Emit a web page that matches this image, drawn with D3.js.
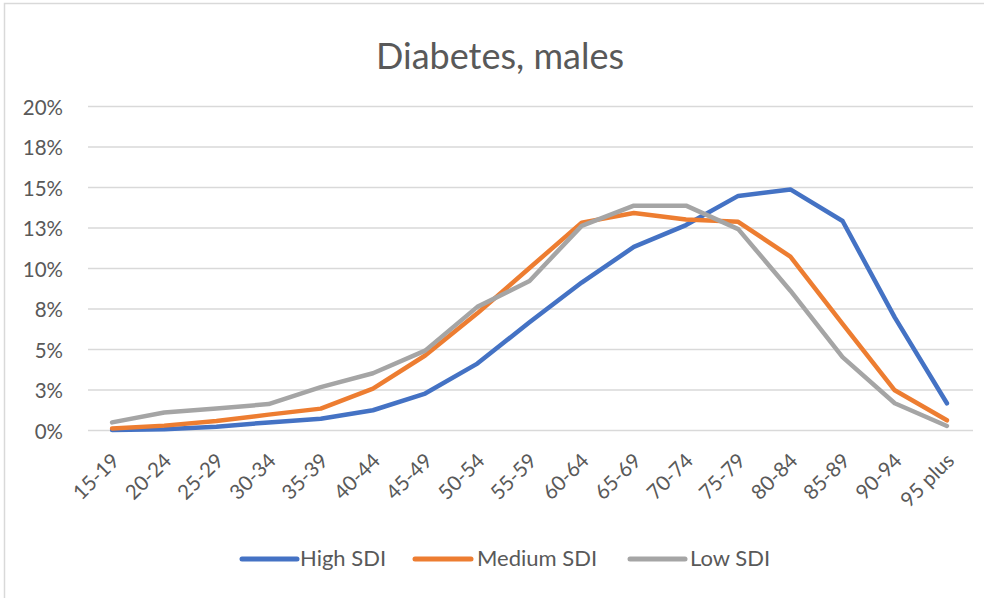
<!DOCTYPE html>
<html>
<head>
<meta charset="utf-8">
<script src="https://cdn.jsdelivr.net/npm/d3@7/dist/d3.min.js"></script>
<style>
  html, body { margin: 0; padding: 0; background: #fff; }
  svg { display: block; }
  svg text { font-family: Lato, "Open Sans", "Liberation Sans", sans-serif; }
</style>
</head>
<body>
<svg id="chart" width="984" height="598"></svg>
<script>
// Age groups on the x axis
const ageGroups = ["15-19","20-24","25-29","30-34","35-39","40-44","45-49","50-54","55-59",
  "60-64","65-69","70-74","75-79","80-84","85-89","90-94","95 plus"];

// Share of deaths (%) by SDI group
const highSDI   = [0.0, 0.05, 0.2, 0.47, 0.7, 1.22, 2.25, 4.1, 6.65, 9.1, 11.3, 12.65, 14.45, 14.85, 12.9, 6.95, 1.65];
const mediumSDI = [0.1, 0.27, 0.55, 0.95, 1.32, 2.55, 4.6, 7.2, 10.0, 12.8, 13.4, 13.0, 12.85, 10.7, 6.55, 2.45, 0.6];
const lowSDI    = [0.47, 1.08, 1.32, 1.6, 2.65, 3.5, 4.9, 7.6, 9.2, 12.6, 13.85, 13.85, 12.4, 8.6, 4.5, 1.65, 0.25];

// Y tick values and their (rounded) labels
const yTicks = [0, 2.5, 5, 7.5, 10, 12.5, 15, 17.5, 20];
const yTickLabels = ["0%","3%","5%","8%","10%","13%","15%","18%","20%"];

const seriesNames = ["High SDI", "Medium SDI", "Low SDI"];
const seriesColors = ["#4472c4", "#ed7d31", "#a5a5a5"];
const seriesValues = [highSDI, mediumSDI, lowSDI];

const svg = d3.select("#chart");
const textColor = "#595959";

// outer chart frame
svg.append("rect")
  .attr("x", 4.5).attr("y", 3.5)
  .attr("width", 990).attr("height", 610)
  .attr("fill", "#fff").attr("stroke", "#d9d9d9").attr("stroke-width", 1.5);

const plot = { left: 86, right: 973, top: 106, bottom: 430 };

const x = d3.scalePoint().domain(ageGroups)
  .range([plot.left, plot.right]).padding(0.5);
const y = d3.scaleLinear().domain([0, 20]).range([plot.bottom, plot.top]);

// title
svg.append("text")
  .attr("x", 500).attr("y", 69)
  .attr("text-anchor", "middle")
  .attr("fill", textColor)
  .style("font-size", "36px")
  .text("Diabetes, males");

// horizontal gridlines + y labels
const yAxis = d3.axisLeft(y).tickValues(yTicks)
  .tickSize(-(plot.right - plot.left - 2))
  .tickFormat((d, i) => yTickLabels[i]);
const gy = svg.append("g")
  .attr("transform", `translate(${plot.left + 2},0)`)
  .call(yAxis)
  .attr("font-family", null).attr("font-size", null);
gy.select(".domain").remove();
gy.selectAll(".tick line").attr("stroke", "#d9d9d9").attr("stroke-width", 1.5);
gy.selectAll(".tick text")
  .attr("x", -25)
  .attr("dy", "0.4em")
  .attr("fill", textColor)
  .style("font-size", "20.5px");

// x labels, rotated
const xAxis = d3.axisBottom(x).tickSize(0);
const gx = svg.append("g")
  .attr("transform", `translate(0,${plot.bottom})`)
  .call(xAxis)
  .attr("font-family", null).attr("font-size", null);
gx.select(".domain").remove();
gx.selectAll(".tick text")
  .attr("fill", textColor)
  .style("font-size", "20.5px")
  .attr("text-anchor", "end")
  .attr("dy", null)
  .attr("y", 0)
  .attr("transform", "translate(8,32) rotate(-45)");

// series lines
const line = d3.line()
  .x((d, i) => x(ageGroups[i]))
  .y(d => y(d));

seriesValues.forEach((vals, k) => {
  svg.append("path")
    .datum(vals)
    .attr("fill", "none")
    .attr("stroke", seriesColors[k])
    .attr("stroke-width", 4.5)
    .attr("stroke-linejoin", "round")
    .attr("stroke-linecap", "round")
    .attr("d", line);
});

// legend
const legendItems = [
  { x: 242, w: 55, tx: 300 },
  { x: 415, w: 56, tx: 477 },
  { x: 630, w: 55, tx: 690 }
];
const legend = svg.append("g");
seriesNames.forEach((name, k) => {
  const it = legendItems[k];
  legend.append("line")
    .attr("x1", it.x).attr("x2", it.x + it.w)
    .attr("y1", 559).attr("y2", 559)
    .attr("stroke", seriesColors[k]).attr("stroke-width", 5)
    .attr("stroke-linecap", "round");
  legend.append("text")
    .attr("x", it.tx).attr("y", 566)
    .attr("fill", textColor)
    .style("font-size", "22px")
    .text(name);
});
</script>
</body>
</html>
